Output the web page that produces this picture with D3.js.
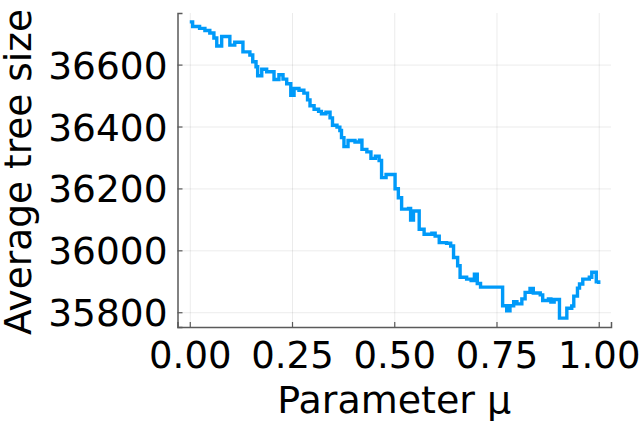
<!DOCTYPE html>
<html>
<head>
<meta charset="utf-8">
<script src="https://cdn.jsdelivr.net/npm/d3@7"></script>
<style>
    body { margin: 0; background: #fff; }
    svg text { font-family: "DejaVu Sans", sans-serif; fill: #000; }
    .grid line { stroke: #000; stroke-opacity: 0.08; stroke-width: 1; }
    .grid path { display: none; }
    .tree_line { fill: none; stroke: #009af9; stroke-width: 3.4; stroke-linejoin: miter; }
</style>
</head>
<body>
<div id="chart"></div>
<script>
// step levels: mu where each level starts, average tree size at that level
var mu = [
    0.000, 0.007, 0.024, 0.037, 0.049, 0.059, 0.066, 0.078, 0.098, 0.110,
    0.130, 0.147, 0.154, 0.162, 0.166, 0.176, 0.188, 0.206, 0.218, 0.228,
    0.237, 0.247, 0.255, 0.267, 0.279, 0.288, 0.294, 0.304, 0.315, 0.322,
    0.333, 0.343, 0.349, 0.360, 0.367, 0.371, 0.377, 0.387, 0.404, 0.415,
    0.421, 0.433, 0.443, 0.454, 0.463, 0.469, 0.480, 0.502, 0.510, 0.518,
    0.535, 0.540, 0.547, 0.561, 0.573, 0.592, 0.600, 0.610, 0.628, 0.638,
    0.645, 0.655, 0.661, 0.677, 0.688, 0.696, 0.703, 0.711, 0.765, 0.775,
    0.783, 0.792, 0.800, 0.812, 0.820, 0.832, 0.840, 0.857, 0.863, 0.877,
    0.883, 0.891, 0.904, 0.922, 0.934, 0.939, 0.948, 0.953, 0.961, 0.977,
    0.983, 0.994, 1.000
];
var treeSize = [
    36738, 36723, 36717, 36710, 36702, 36686, 36660, 36691, 36663, 36672,
    36641, 36631, 36609, 36593, 36564, 36585, 36577, 36552, 36567, 36553,
    36538, 36501, 36523, 36517, 36508, 36486, 36467, 36456, 36449, 36441,
    36446, 36428, 36404, 36398, 36387, 36364, 36335, 36355, 36350, 36356,
    36326, 36318, 36297, 36304, 36290, 36235, 36245, 36199, 36170, 36133,
    36135, 36098, 36127, 36068, 36052, 36055, 36046, 36025, 36023, 36014,
    35977, 35950, 35913, 35907, 35902, 35923, 35893, 35881, 35821, 35805,
    35821, 35834, 35827, 35843, 35864, 35877, 35862, 35856, 35838, 35843,
    35833, 35841, 35781, 35813, 35820, 35852, 35878, 35891, 35907, 35913,
    35929, 35898, 35891
];
var xTicks = [0, 0.25, 0.5, 0.75, 1];
var yTicks = [35800, 36000, 36200, 36400, 36600];
var xLabel = "Parameter μ";
var yLabel = "Average tree size";

var outerWidth = 640;
var outerHeight = 421;
var margin = {top: 13, right: 29, bottom: 94, left: 177.5};
var width = outerWidth - margin.left - margin.right;
var height = outerHeight - margin.top - margin.bottom;

var data = mu.map((m, i) => [m, treeSize[i]]);

var svg = d3.select("#chart")
    .append("svg")
    .attr("width", outerWidth)
    .attr("height", outerHeight)
    .append("g")
    .attr("transform", "translate(" + margin.left + "," + margin.top + ")");

// widen the data extent by 3% on each side
function widen(ext) {
    var pad = (ext[1] - ext[0]) * 0.03;
    return [ext[0] - pad, ext[1] + pad];
}

var xScale = d3.scaleLinear()
    .domain(widen(d3.extent(mu)))
    .range([0, width]);

var yScale = d3.scaleLinear()
    .domain(widen(d3.extent(treeSize)))
    .range([height, 0]);

// gridlines
svg.append("g")
    .attr("class", "grid")
    .attr("transform", "translate(0," + height + ")")
    .call(d3.axisBottom(xScale).tickValues(xTicks).tickSize(-height).tickFormat(""));

svg.append("g")
    .attr("class", "grid")
    .call(d3.axisLeft(yScale).tickValues(yTicks).tickSize(-width).tickFormat(""));

// X axis (ticks pointing inward)
var xAxis = svg.append("g")
    .attr("class", "x axis")
    .attr("transform", "translate(0," + height + ")")
    .call(d3.axisBottom(xScale)
          .tickValues(xTicks)
          .tickSize(-5)
          .tickPadding(0)
          .tickFormat(d3.format(".2f")));
xAxis.select(".domain").attr("stroke", "#5a5a5a").attr("stroke-width", 1.5);
xAxis.selectAll(".tick line").attr("stroke", "#5a5a5a").attr("stroke-width", 1.2);
xAxis.selectAll(".tick text")
    .attr("font-size", 37)
    .attr("y", 41)
    .attr("dy", 0);

// Y axis
var yAxis = svg.append("g")
    .attr("class", "y axis")
    .call(d3.axisLeft(yScale)
          .tickValues(yTicks)
          .tickSize(-5)
          .tickPadding(0)
          .tickFormat(d3.format("d")));
yAxis.select(".domain").attr("stroke", "#5a5a5a").attr("stroke-width", 1.5);
yAxis.selectAll(".tick line").attr("stroke", "#5a5a5a").attr("stroke-width", 1.2);
yAxis.selectAll(".tick text")
    .attr("font-size", 37.5)
    .attr("x", -10)
    .attr("dy", "0.36em");
svg.selectAll(".axis text").style("font-family", "DejaVu Sans, sans-serif").attr("fill", "#000");

// axis titles
svg.append("text")
    .attr("x", width / 2)
    .attr("y", height + 86)
    .attr("text-anchor", "middle")
    .attr("font-size", 38)
    .text(xLabel);

svg.append("text")
    .attr("transform", "translate(" + (31 - margin.left) + "," + (height / 2 + 2) + ") rotate(-90)")
    .attr("text-anchor", "middle")
    .attr("font-size", 37.5)
    .text(yLabel);

// tree size line
var tree_line = d3.line()
    .curve(d3.curveStepAfter)
    .x(d => xScale(d[0]))
    .y(d => yScale(d[1]));

svg.append("path")
    .datum(data)
    .attr("class", "tree_line")
    .attr("d", tree_line);
</script>
</body>
</html>
